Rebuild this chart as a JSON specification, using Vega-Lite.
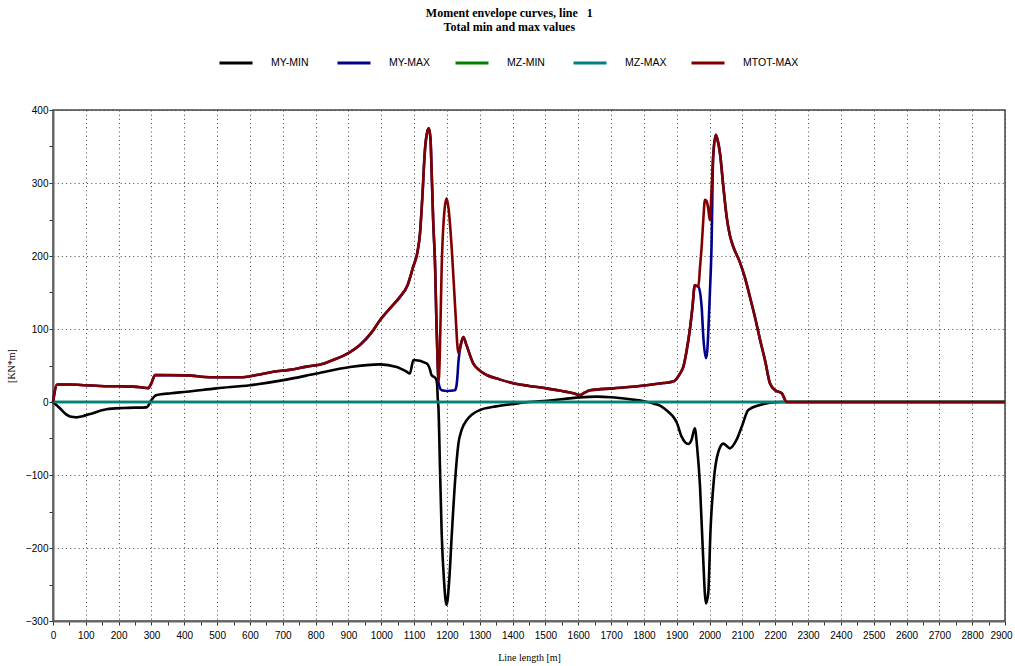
{
"$schema": "https://vega.github.io/schema/vega-lite/v6.json",
"width": 952, "height": 511,
"autosize": "none",
"padding": {"left": 53, "top": 110, "right": 10, "bottom": 45},
"background": "white",
"view": {"stroke": "#444", "strokeWidth": 1.5},
"title": {"text": ["Moment envelope curves, line\u00a0\u00a0\u00a01", "Total min and max values"], "font": "Liberation Serif", "fontSize": 12, "fontWeight": "bold", "lineHeight": 14, "anchor": "middle", "frame": "bounds", "offset": 11, "color": "black"},
"data": {"values": [
{"s":"MY-MIN","x":0,"y":0},{"s":"MY-MIN","x":21,"y":-8.6},{"s":"MY-MIN","x":40,"y":-17},{"s":"MY-MIN","x":52,"y":-20},{"s":"MY-MIN","x":72,"y":-21},{"s":"MY-MIN","x":90,"y":-19.5},{"s":"MY-MIN","x":113,"y":-16.4},{"s":"MY-MIN","x":163,"y":-10},{"s":"MY-MIN","x":214,"y":-8.2},{"s":"MY-MIN","x":285,"y":-7.3},{"s":"MY-MIN","x":293,"y":-3},{"s":"MY-MIN","x":300,"y":2.7},{"s":"MY-MIN","x":316,"y":9.6},{"s":"MY-MIN","x":360,"y":12},{"s":"MY-MIN","x":407,"y":14},{"s":"MY-MIN","x":498,"y":18.7},{"s":"MY-MIN","x":600,"y":23},{"s":"MY-MIN","x":702,"y":30},{"s":"MY-MIN","x":803,"y":39},{"s":"MY-MIN","x":905,"y":48},{"s":"MY-MIN","x":996,"y":51.5},{"s":"MY-MIN","x":1047,"y":48},{"s":"MY-MIN","x":1077,"y":41.5},{"s":"MY-MIN","x":1087,"y":39},{"s":"MY-MIN","x":1098,"y":57.5},{"s":"MY-MIN","x":1138,"y":53},{"s":"MY-MIN","x":1148,"y":45},{"s":"MY-MIN","x":1153,"y":37},{"s":"MY-MIN","x":1166,"y":32.4},{"s":"MY-MIN","x":1170,"y":25},{"s":"MY-MIN","x":1172,"y":5},{"s":"MY-MIN","x":1174,"y":-6},{"s":"MY-MIN","x":1179,"y":-93},{"s":"MY-MIN","x":1184,"y":-180},{"s":"MY-MIN","x":1191,"y":-244},{"s":"MY-MIN","x":1199,"y":-278},{"s":"MY-MIN","x":1207,"y":-244},{"s":"MY-MIN","x":1215,"y":-180},{"s":"MY-MIN","x":1225,"y":-107},{"s":"MY-MIN","x":1235,"y":-57},{"s":"MY-MIN","x":1245,"y":-38},{"s":"MY-MIN","x":1260,"y":-25},{"s":"MY-MIN","x":1280,"y":-16},{"s":"MY-MIN","x":1301,"y":-11},{"s":"MY-MIN","x":1350,"y":-6},{"s":"MY-MIN","x":1402,"y":-2.7},{"s":"MY-MIN","x":1450,"y":0},{"s":"MY-MIN","x":1504,"y":1.8},{"s":"MY-MIN","x":1605,"y":6.4},{"s":"MY-MIN","x":1656,"y":7.3},{"s":"MY-MIN","x":1700,"y":6.5},{"s":"MY-MIN","x":1758,"y":3.7},{"s":"MY-MIN","x":1800,"y":1},{"s":"MY-MIN","x":1829,"y":-2},{"s":"MY-MIN","x":1849,"y":-5},{"s":"MY-MIN","x":1879,"y":-15.5},{"s":"MY-MIN","x":1889,"y":-20},{"s":"MY-MIN","x":1900,"y":-28},{"s":"MY-MIN","x":1915,"y":-47.5},{"s":"MY-MIN","x":1935,"y":-57.5},{"s":"MY-MIN","x":1945,"y":-52},{"s":"MY-MIN","x":1955,"y":-36},{"s":"MY-MIN","x":1962,"y":-61},{"s":"MY-MIN","x":1971,"y":-116},{"s":"MY-MIN","x":1979,"y":-198},{"s":"MY-MIN","x":1989,"y":-276},{"s":"MY-MIN","x":1996,"y":-262},{"s":"MY-MIN","x":2003,"y":-175},{"s":"MY-MIN","x":2013,"y":-107},{"s":"MY-MIN","x":2027,"y":-68},{"s":"MY-MIN","x":2042,"y":-57},{"s":"MY-MIN","x":2062,"y":-63.5},{"s":"MY-MIN","x":2082,"y":-52},{"s":"MY-MIN","x":2098,"y":-34},{"s":"MY-MIN","x":2118,"y":-11},{"s":"MY-MIN","x":2154,"y":-4},{"s":"MY-MIN","x":2215,"y":0},{"s":"MY-MIN","x":2900,"y":0},
{"s":"MZ-MIN","x":0,"y":0},{"s":"MZ-MIN","x":2900,"y":0},
{"s":"MZ-MAX","x":0,"y":0},{"s":"MZ-MAX","x":2900,"y":0},
{"s":"MY-MAX","x":0,"y":0},{"s":"MY-MAX","x":13,"y":24},{"s":"MY-MAX","x":50,"y":24},{"s":"MY-MAX","x":100,"y":23},{"s":"MY-MAX","x":143,"y":22},{"s":"MY-MAX","x":200,"y":21.5},{"s":"MY-MAX","x":244,"y":21},{"s":"MY-MAX","x":270,"y":20},{"s":"MY-MAX","x":290,"y":19},{"s":"MY-MAX","x":300,"y":26},{"s":"MY-MAX","x":311,"y":37},{"s":"MY-MAX","x":407,"y":36.5},{"s":"MY-MAX","x":478,"y":34},{"s":"MY-MAX","x":570,"y":34},{"s":"MY-MAX","x":620,"y":37},{"s":"MY-MAX","x":671,"y":41.5},{"s":"MY-MAX","x":720,"y":44},{"s":"MY-MAX","x":773,"y":48.5},{"s":"MY-MAX","x":820,"y":52},{"s":"MY-MAX","x":853,"y":57.5},{"s":"MY-MAX","x":900,"y":67},{"s":"MY-MAX","x":935,"y":78},{"s":"MY-MAX","x":970,"y":95},{"s":"MY-MAX","x":996,"y":112},{"s":"MY-MAX","x":1030,"y":130},{"s":"MY-MAX","x":1057,"y":144},{"s":"MY-MAX","x":1080,"y":160},{"s":"MY-MAX","x":1097,"y":185},{"s":"MY-MAX","x":1110,"y":205},{"s":"MY-MAX","x":1118,"y":231},{"s":"MY-MAX","x":1125,"y":280},{"s":"MY-MAX","x":1133,"y":345},{"s":"MY-MAX","x":1140,"y":370},{"s":"MY-MAX","x":1145,"y":375},{"s":"MY-MAX","x":1150,"y":360},{"s":"MY-MAX","x":1153,"y":322},{"s":"MY-MAX","x":1158,"y":250},{"s":"MY-MAX","x":1164,"y":185},{"s":"MY-MAX","x":1168,"y":110},{"s":"MY-MAX","x":1172,"y":50},{"s":"MY-MAX","x":1174,"y":28},{"s":"MY-MAX","x":1178,"y":20},{"s":"MY-MAX","x":1184,"y":16},{"s":"MY-MAX","x":1200,"y":15},{"s":"MY-MAX","x":1224,"y":16},{"s":"MY-MAX","x":1229,"y":22},{"s":"MY-MAX","x":1232,"y":35},{"s":"MY-MAX","x":1235,"y":55},{"s":"MY-MAX","x":1238,"y":67},{"s":"MY-MAX","x":1243,"y":80},{"s":"MY-MAX","x":1250,"y":89},{"s":"MY-MAX","x":1258,"y":80},{"s":"MY-MAX","x":1280,"y":53},{"s":"MY-MAX","x":1300,"y":43},{"s":"MY-MAX","x":1321,"y":37},{"s":"MY-MAX","x":1360,"y":31},{"s":"MY-MAX","x":1402,"y":25.6},{"s":"MY-MAX","x":1450,"y":22},{"s":"MY-MAX","x":1504,"y":18.7},{"s":"MY-MAX","x":1550,"y":15},{"s":"MY-MAX","x":1585,"y":12},{"s":"MY-MAX","x":1605,"y":9.6},{"s":"MY-MAX","x":1620,"y":13},{"s":"MY-MAX","x":1636,"y":16},{"s":"MY-MAX","x":1707,"y":18.7},{"s":"MY-MAX","x":1808,"y":23},{"s":"MY-MAX","x":1860,"y":26},{"s":"MY-MAX","x":1889,"y":28},{"s":"MY-MAX","x":1910,"y":39},{"s":"MY-MAX","x":1920,"y":48},{"s":"MY-MAX","x":1930,"y":70},{"s":"MY-MAX","x":1940,"y":99},{"s":"MY-MAX","x":1948,"y":130},{"s":"MY-MAX","x":1955,"y":160},{"s":"MY-MAX","x":1966,"y":158},{"s":"MY-MAX","x":1976,"y":130},{"s":"MY-MAX","x":1981,"y":89},{"s":"MY-MAX","x":1989,"y":60},{"s":"MY-MAX","x":1993,"y":70},{"s":"MY-MAX","x":1996,"y":94},{"s":"MY-MAX","x":2001,"y":149},{"s":"MY-MAX","x":2006,"y":213},{"s":"MY-MAX","x":2011,"y":336},{"s":"MY-MAX","x":2019,"y":366},{"s":"MY-MAX","x":2025,"y":358},{"s":"MY-MAX","x":2032,"y":340},{"s":"MY-MAX","x":2042,"y":295},{"s":"MY-MAX","x":2052,"y":254},{"s":"MY-MAX","x":2062,"y":228},{"s":"MY-MAX","x":2072,"y":213},{"s":"MY-MAX","x":2092,"y":192},{"s":"MY-MAX","x":2108,"y":170},{"s":"MY-MAX","x":2123,"y":144},{"s":"MY-MAX","x":2140,"y":113},{"s":"MY-MAX","x":2154,"y":85},{"s":"MY-MAX","x":2170,"y":55},{"s":"MY-MAX","x":2184,"y":25.6},{"s":"MY-MAX","x":2200,"y":16},{"s":"MY-MAX","x":2220,"y":12},{"s":"MY-MAX","x":2235,"y":0},{"s":"MY-MAX","x":2900,"y":0},
{"s":"MTOT-MAX","x":0,"y":0},{"s":"MTOT-MAX","x":13,"y":24},{"s":"MTOT-MAX","x":50,"y":24},{"s":"MTOT-MAX","x":100,"y":23},{"s":"MTOT-MAX","x":143,"y":22},{"s":"MTOT-MAX","x":200,"y":21.5},{"s":"MTOT-MAX","x":244,"y":21},{"s":"MTOT-MAX","x":270,"y":20},{"s":"MTOT-MAX","x":290,"y":19},{"s":"MTOT-MAX","x":300,"y":26},{"s":"MTOT-MAX","x":311,"y":37},{"s":"MTOT-MAX","x":407,"y":36.5},{"s":"MTOT-MAX","x":478,"y":34},{"s":"MTOT-MAX","x":570,"y":34},{"s":"MTOT-MAX","x":620,"y":37},{"s":"MTOT-MAX","x":671,"y":41.5},{"s":"MTOT-MAX","x":720,"y":44},{"s":"MTOT-MAX","x":773,"y":48.5},{"s":"MTOT-MAX","x":820,"y":52},{"s":"MTOT-MAX","x":853,"y":57.5},{"s":"MTOT-MAX","x":900,"y":67},{"s":"MTOT-MAX","x":935,"y":78},{"s":"MTOT-MAX","x":970,"y":95},{"s":"MTOT-MAX","x":996,"y":112},{"s":"MTOT-MAX","x":1030,"y":130},{"s":"MTOT-MAX","x":1057,"y":144},{"s":"MTOT-MAX","x":1080,"y":160},{"s":"MTOT-MAX","x":1097,"y":185},{"s":"MTOT-MAX","x":1110,"y":205},{"s":"MTOT-MAX","x":1118,"y":231},{"s":"MTOT-MAX","x":1125,"y":280},{"s":"MTOT-MAX","x":1133,"y":345},{"s":"MTOT-MAX","x":1140,"y":370},{"s":"MTOT-MAX","x":1145,"y":375},{"s":"MTOT-MAX","x":1150,"y":360},{"s":"MTOT-MAX","x":1153,"y":322},{"s":"MTOT-MAX","x":1158,"y":250},{"s":"MTOT-MAX","x":1164,"y":185},{"s":"MTOT-MAX","x":1168,"y":110},{"s":"MTOT-MAX","x":1172,"y":50},{"s":"MTOT-MAX","x":1175,"y":30},{"s":"MTOT-MAX","x":1178,"y":60},{"s":"MTOT-MAX","x":1184,"y":185},{"s":"MTOT-MAX","x":1192,"y":260},{"s":"MTOT-MAX","x":1199,"y":279},{"s":"MTOT-MAX","x":1205,"y":265},{"s":"MTOT-MAX","x":1215,"y":208},{"s":"MTOT-MAX","x":1225,"y":130},{"s":"MTOT-MAX","x":1235,"y":67},{"s":"MTOT-MAX","x":1243,"y":80},{"s":"MTOT-MAX","x":1250,"y":89},{"s":"MTOT-MAX","x":1258,"y":80},{"s":"MTOT-MAX","x":1280,"y":53},{"s":"MTOT-MAX","x":1300,"y":43},{"s":"MTOT-MAX","x":1321,"y":37},{"s":"MTOT-MAX","x":1360,"y":31},{"s":"MTOT-MAX","x":1402,"y":25.6},{"s":"MTOT-MAX","x":1450,"y":22},{"s":"MTOT-MAX","x":1504,"y":18.7},{"s":"MTOT-MAX","x":1550,"y":15},{"s":"MTOT-MAX","x":1585,"y":12},{"s":"MTOT-MAX","x":1605,"y":9.6},{"s":"MTOT-MAX","x":1620,"y":13},{"s":"MTOT-MAX","x":1636,"y":16},{"s":"MTOT-MAX","x":1707,"y":18.7},{"s":"MTOT-MAX","x":1808,"y":23},{"s":"MTOT-MAX","x":1860,"y":26},{"s":"MTOT-MAX","x":1889,"y":28},{"s":"MTOT-MAX","x":1910,"y":39},{"s":"MTOT-MAX","x":1920,"y":48},{"s":"MTOT-MAX","x":1930,"y":70},{"s":"MTOT-MAX","x":1940,"y":99},{"s":"MTOT-MAX","x":1948,"y":130},{"s":"MTOT-MAX","x":1955,"y":160},{"s":"MTOT-MAX","x":1966,"y":158},{"s":"MTOT-MAX","x":1971,"y":185},{"s":"MTOT-MAX","x":1976,"y":213},{"s":"MTOT-MAX","x":1981,"y":250},{"s":"MTOT-MAX","x":1986,"y":277},{"s":"MTOT-MAX","x":1991,"y":275},{"s":"MTOT-MAX","x":1996,"y":265},{"s":"MTOT-MAX","x":2001,"y":249},{"s":"MTOT-MAX","x":2006,"y":290},{"s":"MTOT-MAX","x":2011,"y":336},{"s":"MTOT-MAX","x":2019,"y":366},{"s":"MTOT-MAX","x":2025,"y":358},{"s":"MTOT-MAX","x":2032,"y":340},{"s":"MTOT-MAX","x":2042,"y":295},{"s":"MTOT-MAX","x":2052,"y":254},{"s":"MTOT-MAX","x":2062,"y":228},{"s":"MTOT-MAX","x":2072,"y":213},{"s":"MTOT-MAX","x":2092,"y":192},{"s":"MTOT-MAX","x":2108,"y":170},{"s":"MTOT-MAX","x":2123,"y":144},{"s":"MTOT-MAX","x":2140,"y":113},{"s":"MTOT-MAX","x":2154,"y":85},{"s":"MTOT-MAX","x":2170,"y":55},{"s":"MTOT-MAX","x":2184,"y":25.6},{"s":"MTOT-MAX","x":2200,"y":16},{"s":"MTOT-MAX","x":2220,"y":12},{"s":"MTOT-MAX","x":2235,"y":0},{"s":"MTOT-MAX","x":2900,"y":0}
]},
"encoding": {
"x": {"field": "x", "type": "quantitative", "title": "Line length [m]",
 "scale": {"domain": [0, 2900], "nice": false, "zero": false},
 "axis": {"values": [0,50,100,150,200,250,300,350,400,450,500,550,600,650,700,750,800,850,900,950,1000,1050,1100,1150,1200,1250,1300,1350,1400,1450,1500,1550,1600,1650,1700,1750,1800,1850,1900,1950,2000,2050,2100,2150,2200,2250,2300,2350,2400,2450,2500,2550,2600,2650,2700,2750,2800,2850,2900],
  "labelExpr": "datum.value % 100 === 0 ? datum.label : ''", "format": "d",
  "labelOffset": {"condition": {"test": "datum.value === 2900", "value": -4}, "value": 0},
  "grid": true, "gridColor": "#444", "gridDash": [1, 3.2], "gridWidth": 1,
  "gridOpacity": {"condition": {"test": "datum.value % 100 !== 0", "value": 0}, "value": 1},
  "domainColor": "#666", "domainWidth": 2, "tickColor": "#333", "tickSize": 4,
  "labelFont": "Liberation Sans", "labelFontSize": 10, "labelColor": "black", "labelPadding": 5,
  "labelOverlap": false, "labelFlush": false,
  "titleFont": "Liberation Serif", "titleFontSize": 10, "titleFontWeight": "normal", "titleColor": "black", "titlePadding": 12}},
"y": {"field": "y", "type": "quantitative", "title": "[KN*m]",
 "scale": {"domain": [-300, 400], "nice": false, "zero": false},
 "axis": {"values": [-300,-250,-200,-150,-100,-50,0,50,100,150,200,250,300,350,400],
  "labelExpr": "datum.value % 100 === 0 ? datum.label : ''", "format": "d",
  "grid": true, "gridColor": "#444", "gridDash": [1, 3.2], "gridWidth": 1,
  "gridOpacity": {"condition": {"test": "datum.value % 100 !== 0", "value": 0}, "value": 1},
  "domainColor": "#666", "domainWidth": 2, "tickColor": "#333", "tickSize": 4,
  "labelFont": "Liberation Sans", "labelFontSize": 10, "labelColor": "black", "labelPadding": 1,
  "labelOverlap": false, "labelFlush": false,
  "titleFont": "Liberation Serif", "titleFontSize": 10, "titleFontWeight": "normal", "titleColor": "black", "titlePadding": 9}},
"color": {"field": "s", "type": "nominal",
 "scale": {"domain": ["MY-MIN", "MY-MAX", "MZ-MIN", "MZ-MAX", "MTOT-MAX"], "range": ["#000000", "#00008B", "#008000", "#008080", "#800000"]},
 "legend": {"orient": "none", "legendX": 165, "legendY": -65, "direction": "horizontal", "columns": 5, "title": null,
  "symbolType": "stroke", "symbolSize": 1089, "symbolStrokeWidth": 3, "gridAlign": "all", "columnPadding": 4,
  "labelFont": "Liberation Sans", "labelFontSize": 10.5, "labelColor": "black", "labelOffset": 17}}
},
"layer": [
{"transform": [{"filter": "datum.s === 'MY-MIN'"}], "mark": {"type": "line", "strokeWidth": 2.6, "interpolate": "monotone"}},
{"transform": [{"filter": "datum.s === 'MY-MAX'"}], "mark": {"type": "line", "strokeWidth": 2.6, "interpolate": "monotone"}},
{"transform": [{"filter": "datum.s === 'MZ-MIN'"}], "mark": {"type": "line", "strokeWidth": 2.6, "interpolate": "monotone"}},
{"transform": [{"filter": "datum.s === 'MZ-MAX'"}], "mark": {"type": "line", "strokeWidth": 2.6, "interpolate": "monotone"}},
{"transform": [{"filter": "datum.s === 'MTOT-MAX'"}], "mark": {"type": "line", "strokeWidth": 2.6, "interpolate": "monotone"}}
]
}
